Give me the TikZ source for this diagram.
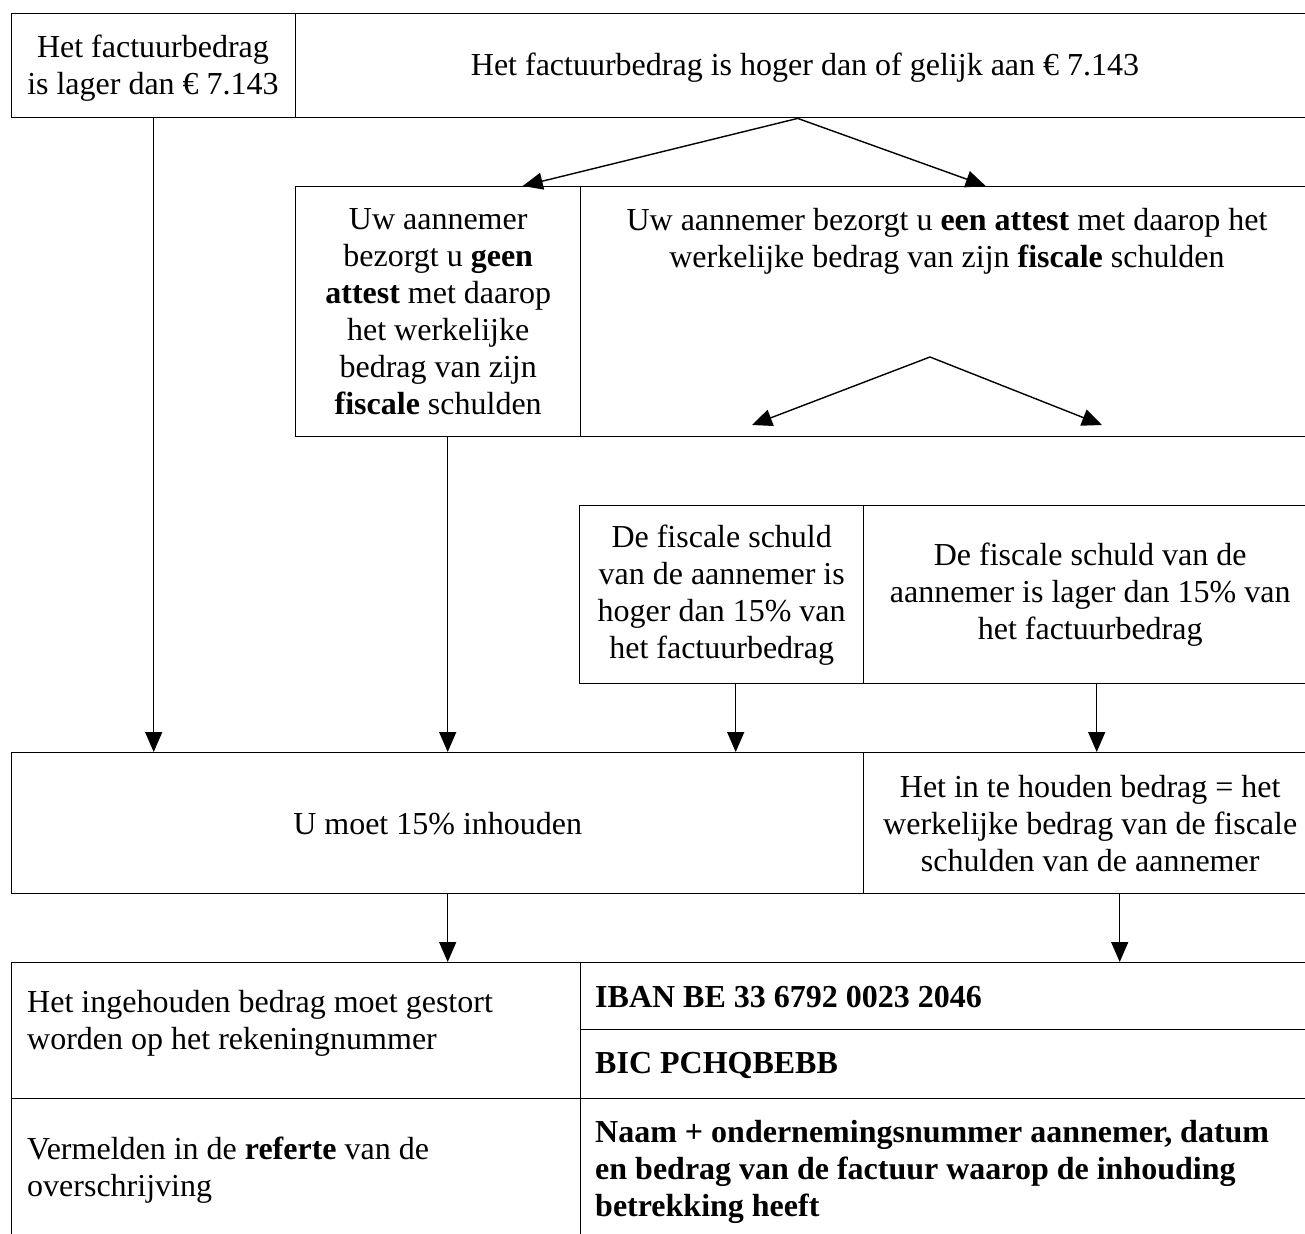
\documentclass[tikz,border=0pt]{standalone}
\usepackage{fontspec}
\setmainfont{Liberation Serif}
\usetikzlibrary{arrows.meta,calc}
\begin{document}
\begin{tikzpicture}[x=1pt,y=-1pt,
  box/.style={draw=black, line width=1.4pt, rectangle, inner sep=0pt, anchor=north west,
    font=\fontsize{32}{37}\selectfont, align=center},
  txt/.style={inner sep=0pt, font=\fontsize{32}{37}\selectfont},
  arr/.style={line width=1.4pt, -{Triangle[length=20pt,width=17pt]}},
  ]
\useasboundingbox (0,0) rectangle (1305,1233);
\clip (0,0) rectangle (1305,1233);
% row 1
\node[box, minimum width=284, minimum height=104] (tl) at (11,13) {};
\node[txt, align=center] (tlt) at (153,68) {Het factuurbedrag\\is lager dan € 7.143};
\node[box, minimum width=1021, minimum height=104] (tr) at (295,13) {};
\node[txt] (trt) at (805,68) {Het factuurbedrag is hoger dan of gelijk aan € 7.143};
% row 2
\node[box, minimum width=285, minimum height=250] (r2l) at (295,186) {Uw aannemer\\bezorgt u \textbf{geen}\\\textbf{attest} met daarop\\het werkelijke\\bedrag van zijn\\\textbf{fiscale} schulden};
\node[box, minimum width=736, minimum height=250] (r2r) at (580,186) {};
\node[txt, align=center] (r2rt) at (947,241) {Uw aannemer bezorgt u \textbf{een attest} met daarop het\\werkelijke bedrag van zijn \textbf{fiscale} schulden};
% row 3
\node[box, minimum width=284, minimum height=178] (r3l) at (579,505) {De fiscale schuld\\van de aannemer is\\hoger dan 15\% van\\het factuurbedrag};
\node[box, minimum width=453, minimum height=178] (r3r) at (863,505) {De fiscale schuld van de\\aannemer is lager dan 15\% van\\het factuurbedrag};
% row 4
\node[box, minimum width=852, minimum height=141] (r4l) at (11,752) {U moet 15\% inhouden};
\node[box, minimum width=453, minimum height=141] (r4r) at (863,752) {Het in te houden bedrag = het\\werkelijke bedrag van de fiscale\\schulden van de aannemer};
% table
\node[box, minimum width=569, minimum height=136] (t1l) at (11,962) {};
\node[box, minimum width=736, minimum height=67] (t1a) at (580,962) {};
\node[box, minimum width=736, minimum height=69] (t1b) at (580,1029) {};
\node[box, minimum width=569, minimum height=142] (t2l) at (11,1098) {};
\node[box, minimum width=736, minimum height=142] (t2r) at (580,1098) {};
\node[txt, anchor=west, align=left] (t1lt) at (27,1023) {Het ingehouden bedrag moet gestort\\worden op het rekeningnummer};
\node[txt, anchor=west, font=\fontsize{32}{37}\selectfont\bfseries] (t1at) at (595,997) {IBAN BE 33 6792 0023 2046};
\node[txt, anchor=west, font=\fontsize{32}{37}\selectfont\bfseries] (t1bt) at (595,1065) {BIC PCHQBEBB};
\node[txt, anchor=west, align=left] (t2lt) at (27,1170) {Vermelden in de \textbf{referte} van de\\overschrijving};
\node[txt, anchor=west, align=left, font=\fontsize{32}{37}\selectfont\bfseries] (t2rt) at (595,1172) {Naam + ondernemingsnummer aannemer, datum\\en bedrag van de factuur waarop de inhouding\\betrekking heeft};
% fork coordinates
\coordinate (f1) at ([xshift=-8.5]tr.south);
\coordinate (f1a) at ([xshift=84.5]r2l.north);
\coordinate (f1b) at ([xshift=37]r2r.north);
\coordinate (f2) at (930,357);
\coordinate (f2a) at (752,425);
\coordinate (f2b) at (1102,425);
\draw[arr] (f1) -- (f1a);
\draw[arr] (f1) -- (f1b);
\draw[arr] (f2) -- (f2a);
\draw[arr] (f2) -- (f2b);
% vertical arrows
\draw[arr] (tl.south) -- (tl.south |- r4l.north);
\draw[arr] ([xshift=9.5]r2l.south) -- ([xshift=9.5]r2l.south |- r4l.north);
\draw[arr] ([xshift=14]r3l.south) -- ([xshift=14]r3l.south |- r4l.north);
\draw[arr] ([xshift=6.5]r3r.south) -- ([xshift=6.5]r3r.south |- r4r.north);
\draw[arr] ([xshift=10]r4l.south) -- ([xshift=10]r4l.south |- t1l.north);
\draw[arr] ([xshift=29.5]r4r.south) -- ([xshift=29.5]r4r.south |- t1a.north);
\end{tikzpicture}
\end{document}
